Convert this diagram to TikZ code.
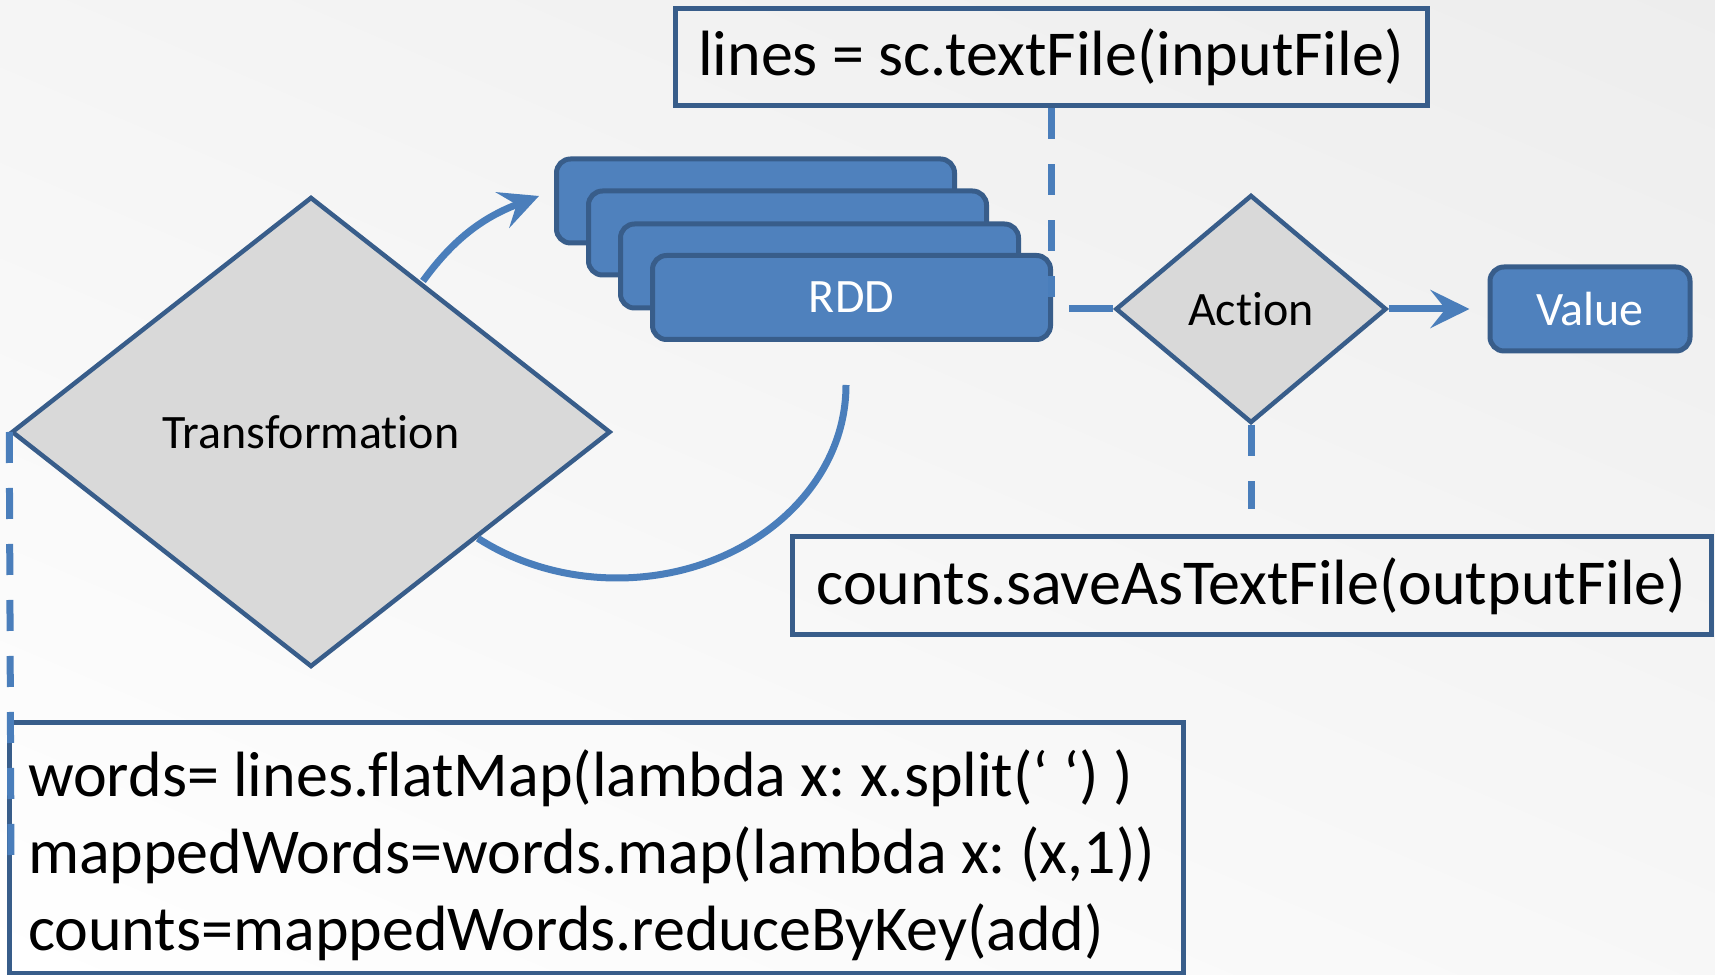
\documentclass[tikz,border=0pt]{standalone}
\usepackage{fontspec}
\setmainfont{Carlito}[Ligatures=NoCommon]
\usetikzlibrary{shapes.geometric,arrows.meta,shadings}
\definecolor{boxblue}{HTML}{4F81BD}
\definecolor{edgeblue}{HTML}{385D8A}
\definecolor{linkblue}{HTML}{4A7EBB}
\definecolor{diagray}{HTML}{D9D9D9}
\frenchspacing

\begin{document}
\begin{tikzpicture}[x=1pt, y=1pt, >={Stealth[length=39pt, width=38pt, inset=15pt]},
    rddbox/.style={draw=edgeblue, fill=boxblue, line width=5pt, rounded corners=14pt,
        minimum width=398pt, minimum height=84pt, inner sep=0pt, text=white,
        font=\fontsize{48}{57}\selectfont},
    decision/.style={diamond, draw=edgeblue, fill=diagray, line width=4.5pt, inner sep=0pt,
        font=\fontsize{48}{57}\selectfont},
    codebox/.style={draw=edgeblue, line width=5pt, inner sep=0pt,
        font=\fontsize{64}{77}\selectfont},
    conn/.style={draw=linkblue, line width=7pt},
    dashconn/.style={conn, dash pattern=on 31pt off 25pt}]
    % 1. Background
    \useasboundingbox (0,0) rectangle (1715,974);
    \shade[upper left=black!4, upper right=black!7, lower left=white, lower right=black!3]
        (0,0) rectangle (1715,974);

    % 2. RDD stack
    \node[rddbox] (rddA) at (755.5,773) {};
    \node[rddbox] (rddB) at (787.5,741) {};
    \node[rddbox] (rddC) at (819.5,708) {};
    \node[rddbox] (rddD) at (851.5,676.5) {RDD};

    % 3. Transformation, Action, Value
    \node[decision, minimum width=599pt, minimum height=470pt] (trans) at (311,542) {Transformation};
    \node[decision, minimum width=271pt, minimum height=228pt] (act) at (1251,665) {Action};
    \node[rddbox, minimum width=200pt, minimum height=84pt] (val) at (1590,665) {Value};

    % 4. Code boxes
    \node[codebox, minimum width=752pt, minimum height=97pt] (loadcode) at (1051,916.5)
        {lines = sc.textFile(inputFile)};
    \node[codebox, minimum width=919pt, minimum height=98pt] (savecode) at (1251.5,388)
        {counts.saveAsTextFile(outputFile)};
    \node[codebox, minimum width=1174pt, minimum height=250pt, text width=1136pt, align=left,
        execute at begin node={\spaceskip=14.5pt\relax}]
        (mapcode) at (596,126)
        {\rule{0pt}{61pt}\mbox{words= lines.flatMap(lambda x: x.split(‘ ‘) )}\\
         \mbox{mappedWords=words.map(lambda x: (x,1))}\\
         \mbox{counts=mappedWords.reduceByKey(add)}};

    % 5. Connectors
    \coordinate (rddout) at (1069,665);
    \coordinate (loopstart) at (423,693);
    \coordinate (looptip) at (539,778);
    \coordinate (backstart) at (846,589);
    \coordinate (mapend) at (11,118);
    \draw[dashconn] (loadcode.south) -- (loadcode.south |- rddD.center);
    \draw[conn] (rddout) -- (act.west);
    \draw[conn, ->, shorten >=18pt] (act.east) -- (val.west);
    \draw[dashconn, shorten >=25pt] (act.south) -- (act.south |- savecode.north);
    \draw[dashconn] (trans.west) -- (mapend);
    \draw[conn, ->] (loopstart) to[out=54, in=201] (looptip);
    \draw[conn] (backstart) arc[start angle=0, end angle=-127.4, x radius=229pt, y radius=193pt];
\end{tikzpicture}
\end{document}
